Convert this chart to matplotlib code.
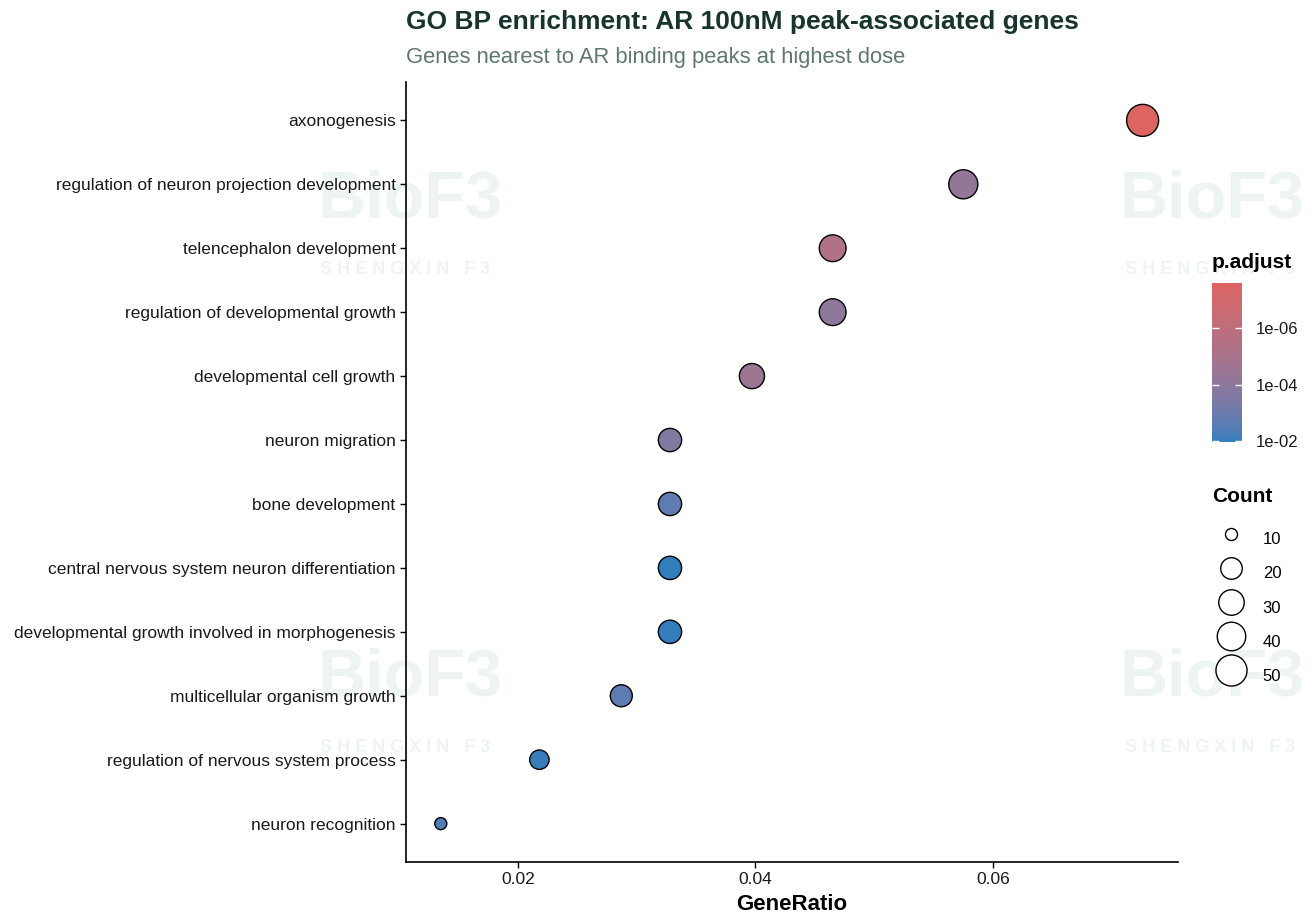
import numpy as np
import matplotlib
matplotlib.use("Agg")
import matplotlib.pyplot as plt
from matplotlib.colors import ListedColormap, LogNorm, to_rgb
from matplotlib.cm import ScalarMappable
from matplotlib.lines import Line2D
from matplotlib.ticker import FixedLocator, FuncFormatter, NullLocator

plt.rcParams['font.family'] = ['Liberation Sans', 'DejaVu Sans']

# GO terms, top to bottom
terms = ["axonogenesis",
         "regulation of neuron projection development",
         "telencephalon development",
         "regulation of developmental growth",
         "developmental cell growth",
         "neuron migration",
         "bone development",
         "central nervous system neuron differentiation",
         "developmental growth involved in morphogenesis",
         "multicellular organism growth",
         "regulation of nervous system process",
         "neuron recognition"]
gene_ratio = [0.0726, 0.0575, 0.0465, 0.0465, 0.0397, 0.0328,
              0.0328, 0.0328, 0.0328, 0.0287, 0.0218, 0.0135]
counts = [54, 42, 34, 34, 29, 24, 24, 24, 24, 21, 16, 10]
p_adjust = [2.6e-8, 6e-5, 5e-6, 1e-4, 3e-5, 2.5e-4,
            2e-3, 1.05e-2, 9.5e-3, 2e-3, 9e-3, 4e-3]
size_breaks = [10, 20, 30, 40, 50]
p_breaks = [1e-6, 1e-4, 1e-2]

low_col = "#DD6461"   # small p.adjust
high_col = "#327EBD"  # large p.adjust


# ggplot-like gradient, interpolated in Lab space
def to_lab(rgb):
    c = np.asarray(rgb, float)
    lin = np.where(c <= 0.04045, c / 12.92, ((c + 0.055) / 1.055) ** 2.4)
    M = np.array([[0.4124, 0.3576, 0.1805], [0.2126, 0.7152, 0.0722], [0.0193, 0.1192, 0.9505]])
    xyz = M @ lin / np.array([0.95047, 1.0, 1.08883])
    f = np.where(xyz > 0.008856, np.cbrt(xyz), 7.787 * xyz + 16 / 116)
    return np.array([116 * f[1] - 16, 500 * (f[0] - f[1]), 200 * (f[1] - f[2])])


def from_lab(lab):
    L, a, b = lab
    fy = (L + 16) / 116
    f = np.array([fy + a / 500, fy, fy - b / 200])
    xyz = np.where(f ** 3 > 0.008856, f ** 3, (f - 16 / 116) / 7.787) * np.array([0.95047, 1.0, 1.08883])
    Mi = np.array([[3.2406, -1.5372, -0.4986], [-0.9689, 1.8758, 0.0415], [0.0557, -0.2040, 1.0570]])
    lin = Mi @ xyz
    c = np.where(lin <= 0.0031308, 12.92 * lin, 1.055 * np.clip(lin, 0, None) ** (1 / 2.4) - 0.055)
    return np.clip(c, 0, 1)


la, lb = to_lab(to_rgb(low_col)), to_lab(to_rgb(high_col))
cmap = ListedColormap([from_lab(la + (lb - la) * t) for t in np.linspace(0, 1, 256)])
norm = LogNorm(vmin=min(p_adjust), vmax=max(p_adjust))


def diam_px(c):
    cmin, cmax = min(counts), max(counts)
    return 13.4 + 20.0 * np.sqrt(np.clip((np.asarray(c, float) - cmin) / (cmax - cmin), 0, None))


edge_lw = 1.0
fig = plt.figure(figsize=(13.16, 9.14), dpi=100)

# faint watermarks
wm = "#EEF4F2"
for xw, yw in [(410, 200), (1212, 200), (410, 678), (1212, 678)]:
    fig.text(xw / 1316, 1 - yw / 914, "BioF3", fontsize=48, fontweight="bold",
             color=wm, ha="center", va="center", zorder=-5)
for xw, yw in [(405, 269), (1210, 269), (405, 747), (1210, 747)]:
    fig.text(xw / 1316, 1 - yw / 914, "S H E N G X I N   F 3", fontsize=13, fontweight="bold",
             color=wm, ha="center", va="center", zorder=-5)

ax = fig.add_axes([406 / 1316, 52 / 914, 772 / 1316, 780 / 914])
ax.set_facecolor("none")
ypos = np.arange(len(terms))[::-1]
d = diam_px(counts)
ax.scatter(gene_ratio, ypos, s=(d * 0.72 - edge_lw) ** 2, c=p_adjust, cmap=cmap, norm=norm,
           edgecolors="black", linewidths=edge_lw, zorder=3)
ax.set_ylim(-0.6, len(terms) - 0.4)
ax.set_xlim(0.01057, 0.07558)
ax.set_yticks(ypos)
ax.set_yticklabels(terms)
ax.set_xticks([0.02, 0.04, 0.06])
ax.set_xticklabels(["0.02", "0.04", "0.06"])
ax.tick_params(labelsize=12.5, colors="black", labelcolor="#1a1a1a", length=4, width=1)
for s in ["top", "right"]:
    ax.spines[s].set_visible(False)
for s in ["left", "bottom"]:
    ax.spines[s].set_linewidth(1.2)
ax.set_xlabel("GeneRatio", fontsize=16, fontweight="bold", labelpad=5)

fig.text(406 / 1316, 1 - 22 / 914, "GO BP enrichment: AR 100nM peak-associated genes",
         fontsize=19, fontweight="bold", color="#17352E", ha="left", va="center")
fig.text(406 / 1316, 1 - 58 / 914, "Genes nearest to AR binding peaks at highest dose",
         fontsize=15.8, color="#5E7770", ha="left", va="center")

# colour bar
cax = fig.add_axes([1212 / 1316, 1 - 442 / 914, 30 / 1316, 159 / 914])
cb = fig.colorbar(ScalarMappable(norm=norm, cmap=cmap), cax=cax)
cb.outline.set_visible(False)
cax.invert_yaxis()
cax.yaxis.set_major_locator(FixedLocator(p_breaks))
cax.yaxis.set_minor_locator(NullLocator())
cax.yaxis.set_major_formatter(FuncFormatter(lambda v, _: f"{v:.0e}"))
cax.yaxis.set_ticks_position("both")
cax.tick_params(direction="in", color="white", length=5, width=1, labelsize=12,
                labelcolor="#1a1a1a", left=True, right=True, labelleft=False, labelright=True, pad=10)
fig.text(1212 / 1316, 1 - 262 / 914, "p.adjust", fontsize=15, fontweight="bold", ha="left", va="center")

# size legend
fig.text(1212 / 1316, 1 - 497 / 914, "Count", fontsize=15, fontweight="bold", ha="left", va="center")
handles = [Line2D([], [], linestyle="none", marker="o", markerfacecolor="white",
                  markeredgecolor="black", markeredgewidth=edge_lw,
                  markersize=float(diam_px(b)) * 0.72 - edge_lw) for b in size_breaks]
leg = fig.legend(handles, [str(b) for b in size_breaks], loc="upper left",
                 bbox_to_anchor=(1196 / 1316, 1 - 508 / 914), frameon=False, fontsize=12,
                 handleheight=2.62, labelspacing=0.1, handlelength=2.4, handletextpad=0.7)

fig.savefig("out.png", dpi=100)
